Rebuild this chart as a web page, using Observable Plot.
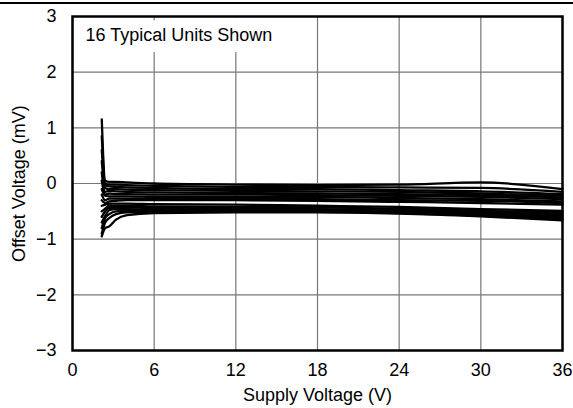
<!DOCTYPE html>
<html>
<head>
<meta charset="utf-8">
<script src="https://cdn.jsdelivr.net/npm/d3@7"></script>
<script src="https://cdn.jsdelivr.net/npm/@observablehq/plot@0.6"></script>
<style>
  html, body { margin: 0; padding: 0; background: #fff; }
  #topline { height: 2px; background: #000; margin-top: 2px; width: 573px; }
  #chart svg { display: block; }
</style>
</head>
<body>
<div id="topline"></div>
<div id="chart"></div>
<script>
const supplyV = [2.15, 2.4, 2.7, 3.2, 4, 6, 12, 18, 24, 30, 36];
const units = [
  [1.15, 0.05, 0.03, 0.03, 0.02, 0.0, -0.02, -0.03, -0.02, 0.02, -0.1],
  [0.85, 0.0, -0.02, -0.02, -0.03, -0.04, -0.06, -0.06, -0.07, -0.08, -0.15],
  [0.6, -0.03, -0.05, -0.06, -0.07, -0.08, -0.1, -0.1, -0.12, -0.14, -0.19],
  [0.4, -0.08, -0.1, -0.1, -0.11, -0.12, -0.13, -0.14, -0.15, -0.18, -0.22],
  [0.2, -0.15, -0.13, -0.14, -0.15, -0.16, -0.17, -0.18, -0.19, -0.21, -0.25],
  [0.05, -0.2, -0.18, -0.19, -0.19, -0.2, -0.2, -0.21, -0.22, -0.24, -0.28],
  [-0.1, -0.22, -0.23, -0.23, -0.23, -0.24, -0.24, -0.24, -0.26, -0.28, -0.32],
  [-0.2, -0.3, -0.27, -0.27, -0.27, -0.27, -0.27, -0.28, -0.3, -0.31, -0.35],
  [-0.3, -0.35, -0.32, -0.31, -0.3, -0.3, -0.3, -0.31, -0.33, -0.35, -0.38],
  [-0.4, -0.38, -0.36, -0.36, -0.36, -0.37, -0.38, -0.4, -0.42, -0.46, -0.49],
  [-0.5, -0.45, -0.4, -0.4, -0.4, -0.41, -0.42, -0.43, -0.45, -0.49, -0.52],
  [-0.6, -0.5, -0.44, -0.43, -0.43, -0.44, -0.45, -0.46, -0.48, -0.52, -0.55],
  [-0.7, -0.58, -0.48, -0.46, -0.46, -0.47, -0.47, -0.48, -0.5, -0.54, -0.58],
  [-0.8, -0.62, -0.55, -0.5, -0.49, -0.49, -0.49, -0.5, -0.52, -0.56, -0.61],
  [-0.9, -0.7, -0.62, -0.55, -0.52, -0.51, -0.5, -0.51, -0.53, -0.58, -0.63],
  [-0.95, -0.8, -0.77, -0.65, -0.57, -0.53, -0.52, -0.52, -0.54, -0.59, -0.66]
];
const xTicks = [0, 6, 12, 18, 24, 30, 36];
const yTicks = [-3, -2, -1, 0, 1, 2, 3];
const xLabel = "Supply Voltage (V)";
const yLabel = "Offset Voltage (mV)";
const note = "16 Typical Units Shown";

const rows = units.flatMap((vals, i) => vals.map((v, j) => ({unit: i, x: supplyV[j], y: v})));

const plot = Plot.plot({
  width: 573,
  height: 404,
  marginLeft: 72,
  marginRight: 11,
  marginTop: 12,
  marginBottom: 58,
  style: {fontFamily: "Liberation Sans, Arial, sans-serif", fontSize: "18px", color: "#000", background: "#fff"},
  x: {domain: [0, 36], ticks: xTicks, label: null},
  y: {domain: [-3, 3], ticks: yTicks, label: null},
  marks: [
    Plot.gridX(xTicks, {stroke: "#777", strokeOpacity: 1, strokeWidth: 1.2}),
    Plot.gridY(yTicks, {stroke: "#777", strokeOpacity: 1, strokeWidth: 1.2}),
    Plot.text([note], {frameAnchor: "top-left", dx: 13, dy: 12, textAnchor: "start", fontSize: 18, fill: "#000", stroke: "#fff", strokeWidth: 22, strokeLinejoin: "round", paintOrder: "stroke"}),
    Plot.line(rows, {x: "x", y: "y", z: "unit", stroke: "#000", strokeWidth: 2.3, curve: "monotone-x"}),
    Plot.frame({stroke: "#000", strokeWidth: 2.5}),
    Plot.axisX(xTicks, {tickSize: 0, tickPadding: 13, label: null, tickFormat: "d", fontSize: 18}),
    Plot.axisY(yTicks, {tickSize: 0, tickPadding: 16, label: null, tickFormat: "d", fontSize: 18}),
    Plot.text([xLabel], {frameAnchor: "bottom", dy: 50, fontSize: 18, fill: "#000"}),
    Plot.text([yLabel], {frameAnchor: "left", dx: -53, rotate: -90, textAnchor: "middle", fontSize: 18, fill: "#000"})
  ]
});
document.getElementById("chart").appendChild(plot);
</script>
</body>
</html>
